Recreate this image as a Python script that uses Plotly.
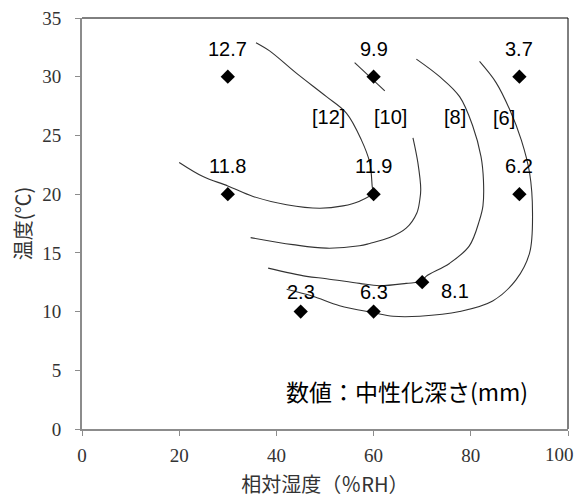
import plotly.graph_objects as go

# Measured points: relative humidity (%RH), temperature (°C), carbonation depth (mm)
point_rh = [30, 60, 90, 30, 60, 90, 45, 60, 70]
point_temp = [30, 30, 30, 20, 20, 20, 10, 10, 12.5]
point_depth = ["12.7", "9.9", "3.7", "11.8", "11.9", "6.2", "2.3", "6.3", "8.1"]

# Hand-drawn iso-depth contours
c12_x = [35.8, 38.6, 44.1, 50.3, 54.4, 57.5, 59.2, 59.7, 59.8, 57.1, 53.7, 48.9, 42.1, 35.2, 30.0, 24.9, 20.0]
c12_y = [32.9, 32.2, 30.3, 28.3, 26.9, 24.6, 22.7, 20.7, 20.1, 19.4, 19.0, 18.8, 19.1, 19.8, 20.7, 21.5, 22.7]

c10a_x = [56.1, 62.3]
c10a_y = [31.2, 28.8]
c10b_x = [68.1, 69.1, 69.7, 69.5, 68.9, 66.7, 63.3, 59.2, 57.1, 50.3, 43.4, 34.7]
c10b_y = [24.8, 22.7, 20.4, 19.5, 18.4, 17.1, 16.3, 15.8, 15.6, 15.4, 15.7, 16.3]

c8_x = [68.8, 73.6, 77.7, 80.4, 82.1, 82.6, 82.5, 81.8, 79.7, 75.6, 70.8, 70.0, 66.7, 61.2, 57.1, 50.3, 46.2, 38.3]
c8_y = [31.5, 30.0, 28.3, 25.8, 23.2, 21.2, 19.0, 17.8, 15.6, 14.1, 13.0, 12.6, 12.4, 12.2, 12.4, 12.8, 13.0, 13.7]

c6_x = [81.8, 85.2, 88.0, 90.4, 92.1, 92.7, 92.1, 89.3, 84.5, 77.7, 69.5, 64.0, 60.0, 53.0, 47.5, 42.1]
c6_y = [31.3, 29.5, 27.2, 24.6, 21.8, 18.4, 15.0, 12.7, 10.9, 10.0, 9.6, 9.6, 9.9, 10.5, 11.3, 11.9]

contour_labels = ["[12]", "[10]", "[8]", "[6]"]
contour_label_x = [50.8, 63.5, 76.7, 86.9]
contour_label_y = [26.6, 26.6, 26.6, 26.5]

x_ticks = [0, 20, 40, 60, 80, 100]
x_tick_text = ["0", "20", "40", "60", "80", "100"]
y_ticks = [0, 5, 10, 15, 20, 25, 30, 35]

note_text = "数値：中性化深さ(mm)"
x_title = "相対湿度（％RH）"
y_title = "温度(℃)"

LINE = dict(color="#333333", width=1.1, shape="spline", smoothing=1.0)
SANS = "Liberation Sans"
SERIF = "Liberation Serif"
CJK = "Noto Sans CJK JP"
TICKFONT = dict(family=SERIF, size=19, color="#333333")

# the last x tick label is drawn as an annotation nudged inside the chart
x_tick_display = x_tick_text[:-1] + [""]

fig = go.Figure()
for cx, cy in [(c12_x, c12_y), (c10a_x, c10a_y), (c10b_x, c10b_y), (c8_x, c8_y), (c6_x, c6_y)]:
    fig.add_trace(go.Scatter(x=cx, y=cy, mode="lines", line=LINE, hoverinfo="skip"))

fig.add_trace(go.Scatter(
    x=point_rh, y=point_temp, mode="markers",
    marker=dict(symbol="diamond", size=11, color="black"),
))

annotations = []
for xv, yv, t in zip(point_rh, point_temp, point_depth):
    if t == "8.1":
        xs, ys = 33, -9
    elif yv <= 10:
        xs, ys = 0, 20
    else:
        xs, ys = 0, 28
    annotations.append(dict(x=xv, y=yv, text=t, showarrow=False, xshift=xs, yshift=ys,
                            font=dict(family=SANS, size=20, color="black")))
for t, xv, yv in zip(contour_labels, contour_label_x, contour_label_y):
    annotations.append(dict(x=xv, y=yv, text=t, showarrow=False,
                            font=dict(family=SANS, size=20, color="black")))
annotations.append(dict(x=66.9, y=3.2, text=note_text, showarrow=False,
                        font=dict(family=CJK, size=23, color="black")))
annotations.append(dict(x=x_ticks[-1], y=y_ticks[0], text=x_tick_text[-1], showarrow=False,
                        xanchor="center", yanchor="middle", xshift=-9, yshift=-25,
                        font=TICKFONT))

fig.update_layout(
    width=575, height=490,
    margin=dict(l=74, r=15, t=10, b=69),
    paper_bgcolor="white", plot_bgcolor="white",
    showlegend=False,
    annotations=annotations,
    shapes=[
        dict(type="line", xref="paper", yref="paper", x0=0, x1=1, y0=1, y1=1, line=dict(color="black", width=1)),
        dict(type="line", xref="paper", yref="paper", x0=1, x1=1, y0=0, y1=1, line=dict(color="black", width=1)),
    ],
    xaxis=dict(
        range=[0, 100], tickvals=x_ticks, ticktext=x_tick_display,
        showgrid=False, zeroline=False, automargin=False,
        showline=True, linecolor="#8c8c8c", linewidth=2,
        ticks="outside", ticklen=5, tickcolor="#8c8c8c", tickwidth=1,
        tickfont=TICKFONT,
        ticklabelstandoff=3, ticklabeloverflow="allow",
        title=dict(text=x_title, font=dict(family=CJK, size=20, color="#333333"), standoff=14),
    ),
    yaxis=dict(
        range=[0, 35], tickvals=y_ticks, showgrid=False, zeroline=False, automargin=False,
        showline=True, linecolor="#8c8c8c", linewidth=2,
        ticks="outside", ticklen=5, tickcolor="#8c8c8c", tickwidth=1,
        tickfont=TICKFONT,
        ticklabelstandoff=10, ticklabeloverflow="allow",
        title=dict(text=y_title, font=dict(family=CJK, size=20, color="#333333"), standoff=23),
    ),
)

fig.write_html("out.html")
